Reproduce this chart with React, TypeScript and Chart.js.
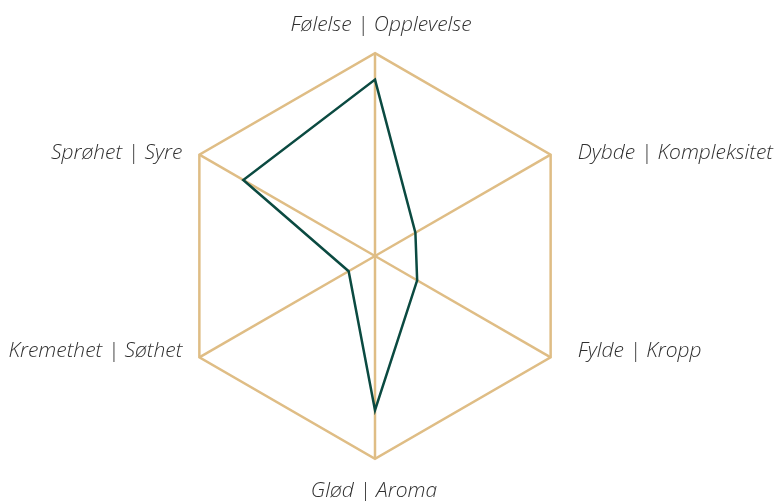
import React, { useEffect, useRef } from "react";
import { Chart, registerables } from "chart.js";

Chart.register(...registerables);

const categories = [
  "Følelse | Opplevelse",
  "Dybde | Kompleksitet",
  "Fylde | Kropp",
  "Glød | Aroma",
  "Kremethet | Søthet",
  "Sprøhet | Syre",
];
const values = [87, 23, 24, 76, 15, 75];
const scaleMax = 100;

const LABEL_FONT = "italic 300 21px 'Open Sans'";
const LABEL_COLOR = "#303030";

// per-label anchor offsets from each axis end: [dx, dy, align]
const labelPlacement: [number, number, CanvasTextAlign][] = [
  [6, -22, "center"],
  [27, 4, "left"],
  [27, 0, "left"],
  [-1, 38, "center"],
  [-17, 0, "right"],
  [-17, 4, "right"],
];

const labelPlugin = {
  id: "customLabels",
  afterDraw(chart: any) {
    const scale = chart.scales.r;
    const ctx = chart.ctx;
    ctx.save();
    ctx.font = LABEL_FONT;
    ctx.fillStyle = LABEL_COLOR;
    ctx.textBaseline = "alphabetic";
    categories.forEach((label, i) => {
      const p = scale.getPointPosition(i, scale.drawingArea);
      const [dx, dy, align] = labelPlacement[i];
      ctx.textAlign = align;
      ctx.fillText(label, p.x + dx, p.y + dy);
    });
    ctx.restore();
  },
};

export default function App() {
  const ref = useRef<HTMLCanvasElement>(null);
  useEffect(() => {
    document.body.style.margin = "0";
    const chart = new Chart(ref.current!, {
      type: "radar",
      data: {
        labels: categories,
        datasets: [
          {
            data: values,
            borderColor: "#0b4a41",
            borderWidth: 2.5,
            backgroundColor: "transparent",
            fill: false,
            pointRadius: 0,
            pointHoverRadius: 0,
            tension: 0,
          },
        ],
      },
      options: {
        animation: false,
        responsive: false,
        maintainAspectRatio: false,
        plugins: { legend: { display: false }, tooltip: { enabled: false } },
        layout: { padding: { top: 12, bottom: 0, left: 0, right: 0 } },
        scales: {
          r: {
            min: 0,
            max: scaleMax,
            ticks: { display: false, stepSize: 100 },
            grid: { color: "#dfbd85", lineWidth: 2.5 },
            angleLines: { color: "#dfbd85", lineWidth: 2.5 },
            pointLabels: {
              color: "rgba(0,0,0,0)",
              padding: 16,
              font: { family: "'Open Sans'", size: 21, style: "italic", weight: "300" },
            },
          },
        },
      },
      plugins: [labelPlugin],
    });
    return () => chart.destroy();
  }, []);
  return (
    <div style={{ position: "absolute", left: 0, top: 0, width: 775, height: 501 }}>
      <canvas ref={ref} width={775} height={501} style={{ width: 775, height: 501 }} />
    </div>
  );
}
